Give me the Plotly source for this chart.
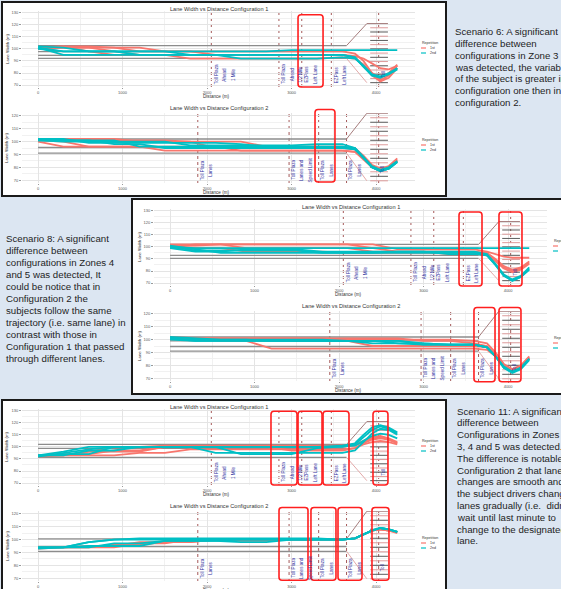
import plotly.graph_objects as go

W, H = 561, 589

# ---------------------------------------------------------------------------
# Data
# ---------------------------------------------------------------------------
# distance along the corridor (m) at which each trajectory is sampled
DIST = [0, 300, 600, 900, 1200, 1500, 1800, 2100, 2400, 2700, 3000, 3300,
        3600, 3750, 3850, 3950, 4050, 4150, 4250]

# Scenario 6 ---------------------------------------------------------------
S6_C1_FIRST = [
    [101, 102, 102, 101, 98, 98, 98, 98, 98, 98, 98, 98, 98, 96, 90, 80, 74, 78, 86],
    [100, 101, 101, 98, 95, 95, 95, 95, 95, 95, 95, 95, 95, 93, 86, 78, 73, 76, 84],
    [101, 102, 98, 95, 95, 95, 92, 92, 92, 92, 92, 92, 93, 92, 87, 80, 76, 80, 87],
    [100, 101, 101, 101, 101, 98, 98, 95, 95, 95, 95, 95, 95, 94, 92, 88, 84, 83, 86],
]
S6_C1_SECOND = [
    [101, 95, 95, 95, 95, 95, 95, 95, 95, 95, 95, 95, 95, 93, 85, 78, 77, 79, 84],
    [101, 98, 98, 98, 95, 95, 95, 95, 95, 95, 95, 95, 95, 93, 86, 78, 76, 79, 83],
    [100, 98, 98, 98, 98, 98, 98, 98, 98, 98, 99, 99, 99, 99, 99, 99, 99, 99, 99],
    [102, 101, 98, 98, 98, 98, 95, 95, 92, 92, 92, 92, 93, 92, 86, 79, 77, 80, 84],
]
S6_C1_LANES = [102.7, 97.8, 94.6, 92.1]

S6_C2_FIRST = [
    [102, 102, 102, 102, 100, 100, 100, 95, 95, 95, 95, 95, 95, 94, 88, 81, 78, 80, 86],
    [101, 100, 96, 96, 96, 96, 96, 96, 93, 93, 93, 93, 93, 92, 86, 80, 77, 80, 85],
    [102, 101, 101, 101, 101, 101, 100, 100, 100, 96, 96, 96, 96, 95, 89, 82, 79, 81, 87],
    [100, 96, 96, 96, 96, 93, 93, 93, 93, 93, 93, 93, 93, 92, 87, 81, 78, 80, 85],
]
S6_C2_SECOND = [
    [102, 101, 101, 98, 98, 95, 95, 95, 95, 95, 95, 95, 95, 94, 88, 80, 77, 79, 84],
    [101, 101, 101, 101, 96, 96, 96, 96, 96, 96, 96, 96, 96, 94, 87, 80, 77, 79, 84],
    [102, 102, 99, 99, 99, 99, 99, 99, 98, 96, 96, 96, 96, 95, 88, 81, 78, 80, 85],
    [101, 100, 100, 100, 100, 100, 97, 97, 97, 97, 97, 98, 98, 95, 88, 80, 77, 79, 84],
]
S6_C2_LANES = [102.0, 95.4, 91.0]

# Scenario 8 ---------------------------------------------------------------
S8_C1_FIRST = [
    [101, 101, 102, 102, 102, 102, 102, 102, 99, 96, 96, 96, 96, 95, 90, 84, 81, 83, 88],
    [100, 102, 102, 102, 102, 102, 102, 102, 102, 98, 98, 98, 98, 96, 94, 92, 91, 91, 91],
    [101, 99, 99, 96, 96, 96, 96, 95, 95, 95, 95, 95, 95, 94, 89, 83, 80, 82, 87],
    [102, 102, 102, 99, 99, 99, 99, 99, 96, 96, 96, 94, 94, 93, 88, 82, 79, 81, 86],
]
S8_C1_SECOND = [
    [100, 97, 97, 97, 97, 97, 95, 95, 95, 95, 95, 95, 95, 93, 85, 76, 72, 75, 82],
    [99, 96, 96, 98, 98, 98, 96, 96, 96, 96, 96, 96, 96, 94, 86, 77, 73, 76, 83],
    [100, 99, 99, 99, 99, 99, 99, 99, 99, 99, 99, 99, 99, 99, 99, 99, 99, 99, 99],
    [101, 98, 95, 95, 95, 95, 95, 95, 95, 96, 96, 94, 94, 93, 85, 76, 72, 75, 81],
]
S8_C1_LANES = [102.0, 99.0, 93.0, 90.5]

S8_C2_FIRST = [
    [101, 101, 101, 101, 101, 101, 101, 100, 100, 100, 100, 100, 99, 97, 90, 81, 77, 80, 87],
    [100, 100, 100, 100, 100, 99, 99, 99, 95, 95, 95, 95, 95, 94, 88, 80, 76, 79, 86],
    [101, 101, 99, 99, 93, 93, 93, 93, 93, 93, 93, 93, 93, 92, 87, 80, 76, 79, 86],
    [102, 101, 101, 101, 101, 101, 101, 101, 101, 101, 99, 99, 97, 95, 89, 80, 76, 79, 86],
]
S8_C2_SECOND = [
    [101, 99, 99, 99, 99, 99, 99, 99, 97, 97, 96, 96, 96, 94, 87, 78, 75, 78, 85],
    [102, 101, 100, 100, 99, 99, 99, 99, 99, 97, 97, 96, 96, 94, 87, 78, 75, 78, 85],
    [100, 99, 99, 99, 99, 99, 99, 99, 99, 99, 96, 96, 96, 94, 87, 79, 75, 78, 85],
    [101, 100, 100, 100, 100, 100, 100, 99, 99, 99, 97, 96, 96, 94, 87, 78, 74, 77, 84],
]
S8_C2_LANES = [102.0, 99.0, 94.6, 91.0]

# Scenario 11 --------------------------------------------------------------
S11_C1_FIRST = [
    [93, 93, 96, 100, 100, 101, 101, 101, 101, 101, 101, 101, 101, 102, 105, 108, 109, 107, 104],
    [93, 94, 94, 97, 97, 100, 100, 100, 100, 100, 100, 100, 100, 101, 104, 107, 108, 106, 103],
    [92, 93, 93, 93, 95, 95, 98, 98, 98, 98, 98, 98, 98, 99, 102, 104, 105, 104, 102],
    [93, 93, 96, 96, 96, 100, 100, 100, 100, 100, 97, 97, 97, 99, 103, 106, 107, 106, 103],
]
S11_C1_SECOND = [
    [93, 96, 100, 100, 100, 100, 100, 100, 100, 100, 100, 100, 101, 103, 110, 116, 118, 116, 112],
    [92, 95, 98, 100, 100, 100, 100, 95, 95, 95, 95, 95, 95, 97, 104, 111, 115, 114, 110],
    [93, 93, 97, 97, 100, 100, 100, 100, 100, 100, 100, 100, 100, 102, 108, 114, 117, 115, 111],
    [93, 94, 94, 100, 100, 100, 100, 100, 94, 94, 94, 99, 100, 101, 105, 109, 111, 110, 107],
]
S11_C1_LANES = [102.0, 98.7, 91.3]

S11_C2_FIRST = [
    [94, 94, 94, 96, 96, 98, 98, 100, 100, 100, 100, 100, 100, 101, 104, 107, 108, 107, 106],
    [93, 94, 94, 94, 97, 97, 100, 100, 99, 99, 100, 100, 100, 101, 104, 107, 108, 107, 105],
    [94, 94, 95, 95, 98, 98, 98, 100, 100, 100, 100, 100, 100, 101, 104, 107, 108, 107, 106],
]
S11_C2_SECOND = [
    [94, 94, 98, 100, 101, 101, 101, 101, 101, 101, 101, 101, 100, 101, 104, 107, 109, 108, 106],
    [93, 94, 98, 100, 100, 100, 100, 100, 100, 100, 100, 100, 100, 101, 104, 107, 109, 108, 106],
    [94, 94, 94, 97, 97, 99, 99, 99, 100, 100, 100, 100, 100, 101, 104, 107, 109, 108, 106],
    [94, 94, 95, 95, 95, 99, 99, 99, 98, 98, 100, 100, 100, 101, 104, 107, 109, 108, 106],
]
S11_C2_LANES = [100.5, 94.6, 90.9]

# road signs (distance in m) and their messages
C1_SIGN_POS = [2050, 2850, 3120, 3470, 4030]
C1_SIGN_TEXT = [["Toll Plaza", "Ahead", "1 Mile"],
                ["Toll Plaza", "Ahead", "1/2 Mile"],
                ["EZPass", "Left Lane"],
                ["EZPass", "Left Lane"],
                ["Toll"]]
C2_SIGN_POS = [1890, 2970, 3320, 3650, 4030]
C2_SIGN_TEXT = [["Toll Plaza", "Lanes"],
                ["Toll Plaza", "Lanes and", "Speed Limit"],
                ["Toll Plaza", "Lanes"],
                ["Toll Plaza", "Lanes"],
                ["Toll"]]

# lane layout at the plaza gantry
LANE_END = 3650
CALLOUT_X = 3890
RULER_X = [3930, 4140]
RULER_C1 = [121, 117.5, 114, 110.5, 107, 103.5, 100, 96.5, 93, 89.5, 86, 82.5, 79, 75.5, 72]
RULER_C2 = [122, 118.5, 115, 111.5, 108, 104.5, 101, 97.5, 94, 90.5, 87, 83.5, 80, 76.5, 73, 69.5]

# highlighted zones: (from m, to m, bottom, top as fraction of the panel height)
S6_C1_ZONES = [(3076, 3372, 0.0, 0.95)]
S6_C2_ZONES = [(3277, 3513, 0.014, 1.05)]
S8_C1_ZONES = [(3419, 3691, -0.013, 0.96), (3892, 4164, -0.013, 0.96)]
S8_C2_ZONES = [(3596, 3845, -0.01, 1.05), (3892, 4152, -0.01, 1.05)]
S11_C1_ZONES = [(2756, 3064, 0.0, 0.97), (3076, 3360, 0.0, 0.97),
                (3372, 3679, 0.0, 0.97), (3963, 4140, 0.0, 0.97)]
S11_C2_ZONES = [(2851, 3194, 0.01, 1.05), (3229, 3525, 0.01, 1.05),
                (3549, 3833, 0.01, 1.05), (3951, 4152, 0.01, 1.05)]

X_TICKS = [0, 1000, 2000, 3000, 4000]
Y_TICKS_C1 = [70, 80, 90, 100, 110, 120, 130]
Y_TICKS_C2 = [70, 80, 90, 100, 110, 120]

S6_TEXT = ["Scenario 6: A significant", "difference between",
           "configurations in Zone 3", "was detected, the variability",
           "of the subject is greater in", "configuration one then in",
           "configuration 2."]
S8_TEXT = ["Scenario 8: A significant", "difference between",
           "configurations in Zones 4", "and 5 was detected, It",
           "could be notice that in", "Configuration 2 the",
           "subjects follow the same", "trajectory (i.e. same lane) in",
           "contrast with those in", "Configuration 1 that passed",
           "through different lanes."]
S11_TEXT = ["Scenario 11: A significant", "difference between",
            "Configurations in Zones", "3, 4 and 5 was detected.",
            "The difference is notable in", "Configuration 2 that lane",
            "changes are smooth and", "the subject drivers change",
            "lanes gradually (i.e.  didn't", "wait until last minute to",
            "change to the designated", "lane."]

# ---------------------------------------------------------------------------
# Styling / layout helpers
# ---------------------------------------------------------------------------
RED = "#F8766D"
TEAL = "#00BFC4"
FONT = "Liberation Sans, Arial, sans-serif"
X_RANGE = [-190, 4460]
Y_RANGE_C1 = [68.4, 131.4]
Y_RANGE_C2 = [67.8, 122.2]


def pxx(x):
    return x / W


def pyy(y):
    return 1 - y / H


def ids(k):
    s = "" if k == 1 else str(k)
    return "x" + s, "y" + s, "xaxis" + s, "yaxis" + s


def rounded_rect(x0, y0, x1, y1, r=3):
    """Rounded rectangle path in paper units from pixel corners."""
    X = lambda v: f"{pxx(v):.5f}"
    Y = lambda v: f"{pyy(v):.5f}"
    return (f"M {X(x0 + r)},{Y(y0)} L {X(x1 - r)},{Y(y0)} Q {X(x1)},{Y(y0)} {X(x1)},{Y(y0 + r)} "
            f"L {X(x1)},{Y(y1 - r)} Q {X(x1)},{Y(y1)} {X(x1 - r)},{Y(y1)} "
            f"L {X(x0 + r)},{Y(y1)} Q {X(x0)},{Y(y1)} {X(x0)},{Y(y1 - r)} "
            f"L {X(x0)},{Y(y0 + r)} Q {X(x0)},{Y(y0)} {X(x0 + r)},{Y(y0)} Z")


def label(x, y, text, size, color="#333", xanchor="center", angle=0):
    return dict(x=pxx(x), y=pyy(y), xref="paper", yref="paper", text=text,
                xanchor=xanchor, yanchor="middle", showarrow=False, textangle=angle,
                font=dict(size=size, color=color, family=FONT))


fig = go.Figure()
shapes = []
annotations = []
layout_axes = {}

# panel frames (white boards on the blue slide)
FRAMES = [(2, 2, 446, 196), (132, 199, 600, 394), (2, 400, 446, 620)]
for (x0, y0, x1, y1) in FRAMES:
    shapes.append(dict(type="rect", xref="paper", yref="paper",
                       x0=pxx(x0), x1=pxx(x1), y0=pyy(y0), y1=pyy(y1),
                       fillcolor="white", line=dict(color="#1a1a1a", width=2),
                       layer="below"))

PANELS = [
    dict(origin=(0, 0),
         subs=[(S6_C1_FIRST, S6_C1_SECOND, S6_C1_LANES, S6_C1_ZONES),
               (S6_C2_FIRST, S6_C2_SECOND, S6_C2_LANES, S6_C2_ZONES)]),
    dict(origin=(132, 198),
         subs=[(S8_C1_FIRST, S8_C1_SECOND, S8_C1_LANES, S8_C1_ZONES),
               (S8_C2_FIRST, S8_C2_SECOND, S8_C2_LANES, S8_C2_ZONES)]),
    dict(origin=(0, 398),
         subs=[(S11_C1_FIRST, S11_C1_SECOND, S11_C1_LANES, S11_C1_ZONES),
               (S11_C2_FIRST, S11_C2_SECOND, S11_C2_LANES, S11_C2_ZONES)]),
]

# pixel boxes of the two stacked plots inside a board: (left, right, top, bottom)
SUB_BOX = [(22, 415, 11, 87), (22, 415, 113, 183)]
TITLE_Y = [9, 108]
XTITLE_Y = [96.8, 192.5]
LEGEND_Y = [43, 140]

k = 0
for panel in PANELS:
    ox, oy = panel["origin"]
    for c, (first, second, lanes, zones) in enumerate(panel["subs"]):
        k += 1
        xa, ya, xkey, ykey = ids(k)
        left, right, top, bottom = SUB_BOX[c]
        left, right, top, bottom = left + ox, right + ox, top + oy, bottom + oy
        y_range = Y_RANGE_C1 if c == 0 else Y_RANGE_C2
        y_ticks = Y_TICKS_C1 if c == 0 else Y_TICKS_C2
        ruler = RULER_C1 if c == 0 else RULER_C2
        sign_pos = C1_SIGN_POS if c == 0 else C2_SIGN_POS
        sign_text = C1_SIGN_TEXT if c == 0 else C2_SIGN_TEXT

        layout_axes[xkey] = dict(
            domain=[pxx(left), pxx(right)], range=X_RANGE, anchor=ya,
            tickvals=X_TICKS, ticktext=[str(v) for v in X_TICKS],
            tickfont=dict(size=4, color="#555", family=FONT),
            showgrid=True, gridcolor="#e4e4e4", gridwidth=0.6,
            minor=dict(showgrid=True, dtick=500, tick0=0, gridcolor="#f1f1f1", gridwidth=0.5),
            zeroline=False, showline=False, ticks="outside", ticklen=1,
            tickcolor="#999", tickwidth=0.5,
        )
        layout_axes[ykey] = dict(
            domain=[pyy(bottom), pyy(top)], range=y_range, anchor=xa,
            tickvals=y_ticks, ticktext=[str(v) for v in y_ticks],
            tickfont=dict(size=4, color="#555", family=FONT),
            showgrid=True, gridcolor="#e4e4e4", gridwidth=0.6,
            minor=dict(showgrid=True, dtick=5, gridcolor="#f1f1f1", gridwidth=0.5),
            zeroline=False, showline=False, ticks="outside", ticklen=2,
            tickcolor="#999", tickwidth=0.5,
        )

        common = dict(xaxis=xa, yaxis=ya, mode="lines", showlegend=False, hoverinfo="skip")

        # lane boundary references
        for v in lanes:
            fig.add_trace(go.Scatter(x=[DIST[0], LANE_END], y=[v, v],
                                     line=dict(color="#8c8c8c", width=1.3), **common))
        # gantry call-out and lane ruler
        fig.add_trace(go.Scatter(x=[LANE_END, CALLOUT_X, RULER_X[1]],
                                 y=[lanes[0], ruler[0], ruler[0]],
                                 line=dict(color="#a57c7c", width=1), **common))
        fig.add_trace(go.Scatter(x=[LANE_END, CALLOUT_X], y=[lanes[-1], ruler[-1]],
                                 line=dict(color="#e3a9a9", width=1), **common))
        for j, v in enumerate(ruler[1:]):
            fig.add_trace(go.Scatter(x=RULER_X, y=[v, v],
                                     line=dict(color="#5a5a5a" if j % 2 else "#dd9a9a", width=1),
                                     **common))

        # driver trajectories
        for ys in first:
            fig.add_trace(go.Scatter(x=DIST, y=ys, line=dict(color=RED, width=1.8), **common))
        for ys in second:
            fig.add_trace(go.Scatter(x=DIST, y=ys, line=dict(color=TEAL, width=1.8), **common))

        # sign locations and messages
        text_y = 79 if c == 0 else 78
        for pos, lines in zip(sign_pos, sign_text):
            shapes.append(dict(type="line", xref=xa, yref=f"{ya} domain",
                               x0=pos, x1=pos, y0=0, y1=1, layer="below",
                               line=dict(color="#9a4545", width=0.9, dash="dot")))
            for j, t in enumerate(lines):
                annotations.append(dict(x=pos + 55 + 100 * j, y=text_y, xref=xa, yref=ya,
                                        text=t, textangle=-90, showarrow=False,
                                        xanchor="center", yanchor="middle",
                                        font=dict(size=4.6, color="#2e2e9e", family=FONT)))

        # highlighted zones
        xspan = X_RANGE[1] - X_RANGE[0]
        for (m0, m1, d0, d1) in zones:
            bx0 = left + (m0 - X_RANGE[0]) / xspan * (right - left)
            bx1 = left + (m1 - X_RANGE[0]) / xspan * (right - left)
            by1 = bottom - d0 * (bottom - top)
            by0 = bottom - d1 * (bottom - top)
            shapes.append(dict(type="path", xref="paper", yref="paper",
                               path=rounded_rect(bx0, by0, bx1, by1),
                               line=dict(color="#ff1f1f", width=1.6)))

        # titles
        annotations.append(label((left + right) / 2, TITLE_Y[c] + oy,
                                 f"Lane Width vs Distance Configuration {c + 1}", 5.6))
        annotations.append(label(216 + ox, XTITLE_Y[c] + oy, "Distance (m)", 4.6))
        annotations.append(label(7 + ox, (top + bottom) / 2, "Lane Width (m)", 4.4, angle=-90))

        # legend
        ly = LEGEND_Y[c] + oy
        lx = 420 + ox
        annotations.append(label(lx, ly, "Repetition", 3.6, xanchor="left"))
        for j, (col, lab) in enumerate([(RED, "1st"), (TEAL, "2nd")]):
            yy = ly + 5 + 5 * j
            shapes.append(dict(type="line", xref="paper", yref="paper",
                               x0=pxx(lx + 1), x1=pxx(lx + 6), y0=pyy(yy), y1=pyy(yy),
                               line=dict(color=col, width=1.2)))
            annotations.append(label(lx + 8, yy, lab, 3.6, xanchor="left"))

# slide commentary
TEXT_BLOCKS = [(S6_TEXT, 453, 32, 11.7), (S8_TEXT, 4, 239, 11.9), (S11_TEXT, 455, 411, 11.8)]
for lines, x0, y0, step in TEXT_BLOCKS:
    for i, t in enumerate(lines):
        annotations.append(label(x0, y0 + i * step, t, 9.7, color="#1e1e1e", xanchor="left"))

fig.update_layout(
    width=W, height=H, margin=dict(l=0, r=0, t=0, b=0),
    paper_bgcolor="#dce6f2", plot_bgcolor="rgba(0,0,0,0)",
    showlegend=False, shapes=shapes, annotations=annotations,
    font=dict(family=FONT),
    **layout_axes,
)

fig.write_html("out.html")
